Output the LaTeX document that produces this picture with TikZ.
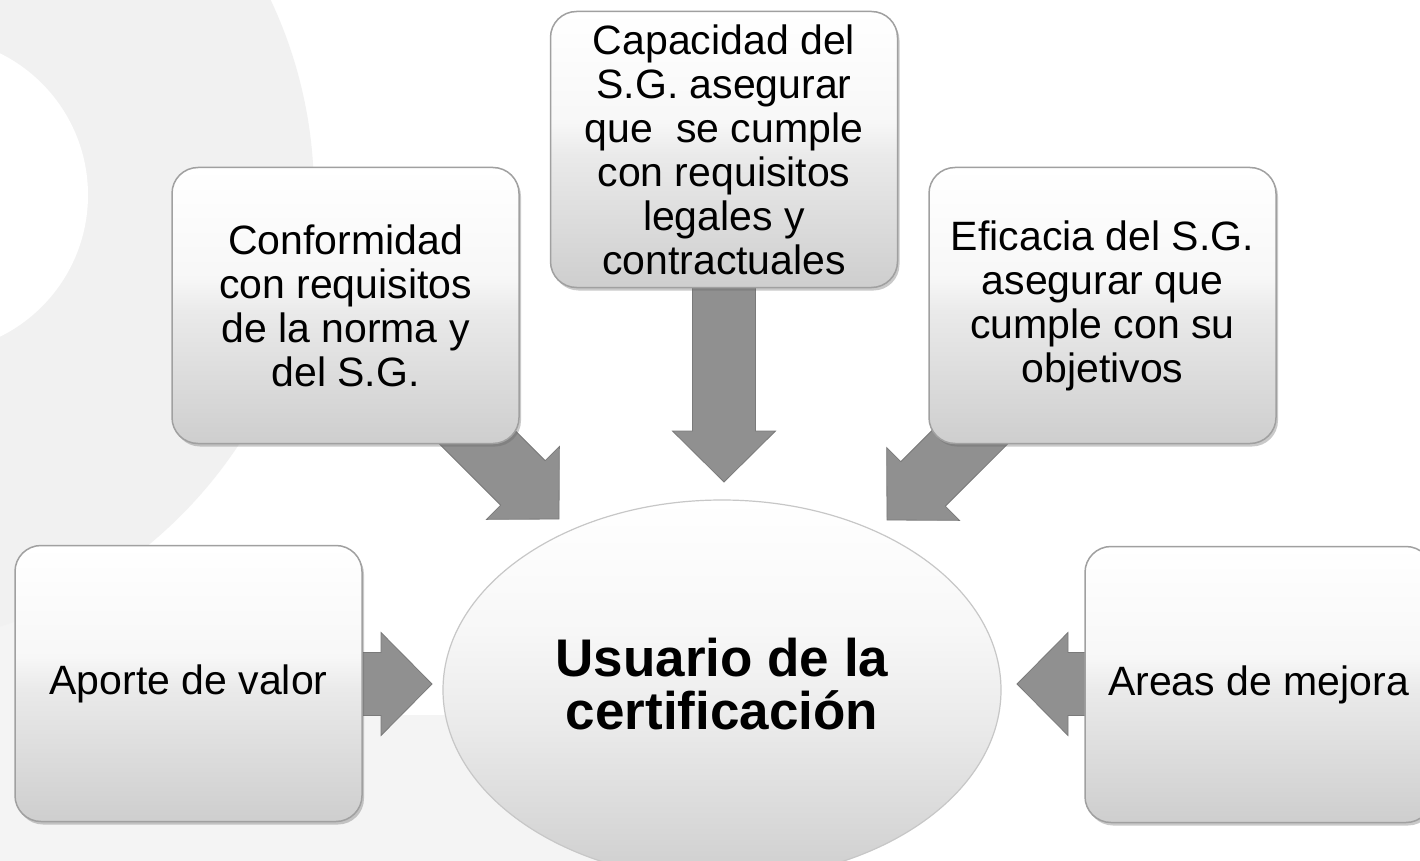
\documentclass[tikz,border=0pt]{standalone}
\usepackage{fontspec}
\setmainfont{Liberation Sans}
\usetikzlibrary{calc,shadows,shapes.geometric}
\definecolor{bgring}{HTML}{F1F1F1}
\definecolor{bgband}{HTML}{F4F4F4}
\definecolor{bxbot}{HTML}{CECECE}
\definecolor{bxmid}{HTML}{EAEAEA}
\definecolor{boxline}{HTML}{A0A0A0}
\definecolor{arrfill}{HTML}{909090}
\definecolor{arrline}{HTML}{7A7A7A}
\pgfdeclareverticalshading{boxshade}{100bp}{color(0bp)=(bxbot); color(25bp)=(bxbot); color(49bp)=(bxmid); color(55bp)=(white!97!black); color(75bp)=(white); color(100bp)=(white)}
\pgfdeclareverticalshading{ellshade}{100bp}{color(0bp)=(bxbot); color(25bp)=(bxbot); color(45bp)=(bxmid); color(58bp)=(white!97!black); color(75bp)=(white); color(100bp)=(white)}
\tikzset{
  box/.style={shade, shading=boxshade, draw=boxline, line width=1.5pt, rounded corners=26pt,
    minimum width=347pt, minimum height=276pt, inner sep=0pt, align=center,
    font=\fontsize{41}{44}\selectfont,
    drop shadow={shadow xshift=2pt, shadow yshift=-3pt, opacity=0.35, fill=black!60}},
  ell/.style={ellipse, shade, shading=ellshade, draw=black!22, line width=1.2pt,
    minimum width=558pt, minimum height=380pt, inner sep=0pt},
  elltext/.style={align=center, font=\bfseries\fontsize{53}{53}\selectfont, inner sep=0pt},
  blockarrow/.style={fill=arrfill, draw=arrline, line width=0.8pt, line join=miter,
    to path={
      ($(\tikztostart)!31.5pt!90:(\tikztotarget)$) --
      ($(\tikztotarget)!59.94pt!-31.70:(\tikztostart)$) --
      ($(\tikztotarget)!72.48pt!-45.28:(\tikztostart)$) --
      (\tikztotarget) --
      ($(\tikztotarget)!72.48pt!45.28:(\tikztostart)$) --
      ($(\tikztotarget)!59.94pt!31.70:(\tikztostart)$) --
      ($(\tikztostart)!31.5pt!-90:(\tikztotarget)$) -- cycle
    }}
}
\begin{document}
\begin{tikzpicture}[x=1pt,y=-1pt]
\useasboundingbox (0,0) rectangle (1420,861);
\clip (0,0) rectangle (1420,861);
% background
\fill[white] (0,0) rectangle (1420,861);
\fill[bgband] (0,715) rectangle (620,861);
\fill[bgband] (0,600) rectangle (20,861);
\fill[bgring] (-141,194) circle[radius=455];
\fill[white] (-70,195) circle[radius=158];

% central ellipse
\node[ell] (u) at (722,690) {};
\node[elltext] (ut) at ([yshift=6pt]u.center) {Usuario de la\\certificación};

% box positions (nodes drawn after arrows)
\path (724,149.5) coordinate (capc)
      (345.5,305.5) coordinate (confc)
      (1102.5,305.5) coordinate (effc)
      (188.5,683.5) coordinate (apc)
      (1258.5,684.5) coordinate (arc);

% arrow end points
\coordinate (t1) at (559,519);
\coordinate (t2) at (724,482);
\coordinate (t3) at (887,520);
\coordinate (t4) at (432,684);
\coordinate (t5) at (1017,684);
\coordinate (s1) at (455,415);
\coordinate (s2) at (724,275);
\coordinate (s3) at (992,415);
\coordinate (s4) at (340,684);
\coordinate (s5) at (1105,684);

\draw[blockarrow] (s1) to (t1);
\draw[blockarrow] (s2) to (t2);
\draw[blockarrow] (s3) to (t3);
\draw[blockarrow] (s4) to (t4);
\draw[blockarrow] (s5) to (t5);

\node[box] (cap) at (capc) {Capacidad del\\S.G. asegurar\\que\ \ se cumple\\con requisitos\\legales y\\contractuales};
\node[box] (conf) at (confc) {Conformidad\\con requisitos\\de la norma y\\del S.G.};
\node[box] (eff) at (effc) {Eficacia del S.G.\\asegurar que\\cumple con su\\objetivos};
\node[box] (ap) at (apc) {Aporte de valor};
\node[box] (ar) at (arc) {Areas de mejora};
\end{tikzpicture}
\end{document}
